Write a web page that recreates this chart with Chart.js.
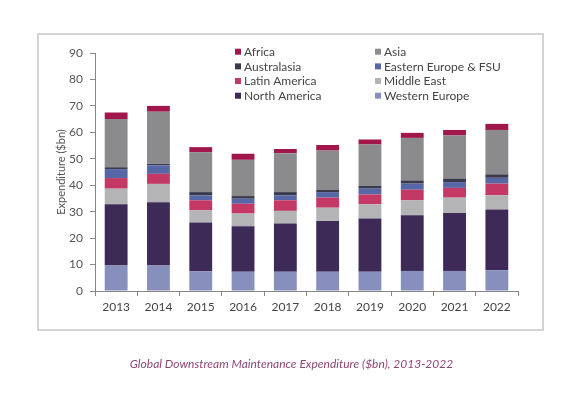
<!DOCTYPE html>
<html>
<head>
<meta charset="utf-8">
<script src="https://cdn.jsdelivr.net/npm/chart.js@4.4.1/dist/chart.umd.min.js"></script>
<style>
    body { margin: 0; background: #fff; }
    #wrap { position: relative; width: 583px; height: 399px; }
    #frame { position: absolute; left: 37px; top: 33px; width: 507px; height: 298px; border: 2px solid #d4d4d4; box-sizing: border-box; }
    #myChart { position: absolute; left: 0; top: 0; }
    #caption { position: absolute; left: 0; top: 356px; width: 583px; text-align: center; font: italic 12px Lato, sans-serif; color: #8c4777; line-height: 15px; }
</style>
</head>
<body>
<div id="wrap">
    <div id="frame"></div>
    <canvas id="myChart" width="583" height="399"></canvas>
    <div id="caption">Global Downstream Maintenance Expenditure ($bn), 2013-2022</div>
</div>
<script>
// x-as
const years = ['2013', '2014', '2015', '2016', '2017', '2018', '2019', '2020', '2021', '2022'];

// waarden per regio ($bn), van onder naar boven gestapeld
const westernEurope = [9.6, 9.6, 7.5, 7.3, 7.3, 7.3, 7.3, 7.6, 7.6, 7.9];
const northAmerica  = [23.2, 24.0, 18.4, 17.2, 18.2, 19.2, 20.1, 21.0, 21.9, 22.9];
const middleEast    = [5.9, 6.9, 4.6, 4.8, 4.8, 5.0, 5.4, 5.7, 5.8, 5.4];
const latinAmerica  = [4.0, 3.8, 3.8, 3.7, 4.0, 3.8, 3.7, 4.0, 3.7, 4.4];
const easternEurope = [3.4, 3.2, 1.9, 1.9, 1.9, 2.1, 2.2, 2.3, 2.2, 2.2];
const australasia   = [0.7, 0.6, 1.2, 1.0, 1.2, 0.9, 1.0, 1.2, 1.2, 1.3];
const asia          = [18.2, 19.7, 15.1, 13.7, 14.7, 14.8, 15.7, 16.1, 16.4, 16.8];
const africa        = [2.5, 2.2, 1.9, 2.3, 1.6, 2.1, 1.9, 1.9, 2.1, 2.3];

const yTicks = { min: 0, max: 90, step: 10 };

const FONT = 'Lato, "Open Sans", sans-serif';

// Legend in twee kolommen (alfabetisch), binnen het plotgebied
const legendPlugin = {
    id: 'twoColLegend',
    afterDraw(chart) {
        const c = chart.ctx;
        const sets = chart.data.datasets.slice().reverse();
        c.save();
        c.font = '12px ' + FONT;
        c.textBaseline = 'middle';
        sets.forEach((ds, i) => {
            const x = i % 2 === 0 ? 235 : 375;
            const y = 51.7 + Math.floor(i / 2) * 14.67;
            c.fillStyle = ds.backgroundColor;
            c.fillRect(x, y - 3, 6, 6);
            c.fillStyle = '#444';
            c.fillText(ds.label, x + 9, y + 0.5);
        });
        c.restore();
    }
};

const ctx = document.getElementById('myChart').getContext('2d');
const myChart = new Chart(ctx, {
    type: 'bar',
    data: {
        labels: years,
        datasets: [
            { label: 'Western Europe', data: westernEurope, backgroundColor: '#8790bd' },
            { label: 'North America', data: northAmerica, backgroundColor: '#3d2a56' },
            { label: 'Middle East', data: middleEast, backgroundColor: '#b4b4b6' },
            { label: 'Latin America', data: latinAmerica, backgroundColor: '#c33865' },
            { label: 'Eastern Europe & FSU', data: easternEurope, backgroundColor: '#5766a4' },
            { label: 'Australasia', data: australasia, backgroundColor: '#3b3a4c' },
            { label: 'Asia', data: asia, backgroundColor: '#8b8b8d' },
            { label: 'Africa', data: africa, backgroundColor: '#a1174b' }
        ]
    },
    options: {
        responsive: false,
        animation: false,
        barPercentage: 0.9,
        categoryPercentage: 0.6,
        layout: { padding: { left: 55, right: 65, top: 53, bottom: 0 } },
        plugins: {
            legend: { display: false },
            tooltip: { enabled: false }
        },
        scales: {
            x: {
                stacked: true,
                grid: { display: true, drawOnChartArea: false, drawTicks: true, tickLength: 5, color: '#888', offset: true },
                border: { display: true, color: '#888' },
                ticks: { color: '#444', font: { family: FONT, size: 12 }, padding: 4 },
                afterFit: scale => { scale.height = 108; }
            },
            y: {
                stacked: true,
                min: yTicks.min,
                max: yTicks.max,
                ticks: { stepSize: yTicks.step, color: '#555', font: { family: FONT, size: 12 }, padding: 7 },
                grid: { display: true, drawOnChartArea: false, drawTicks: true, tickLength: 5, color: '#888' },
                border: { display: true, color: '#888' },
                title: { display: true, text: 'Expenditure ($bn)', color: '#555', font: { family: FONT, size: 11 }, padding: 0 },
                afterFit: scale => { scale.width = 40; }
            }
        }
    },
    plugins: [legendPlugin]
});
</script>
</body>
</html>
